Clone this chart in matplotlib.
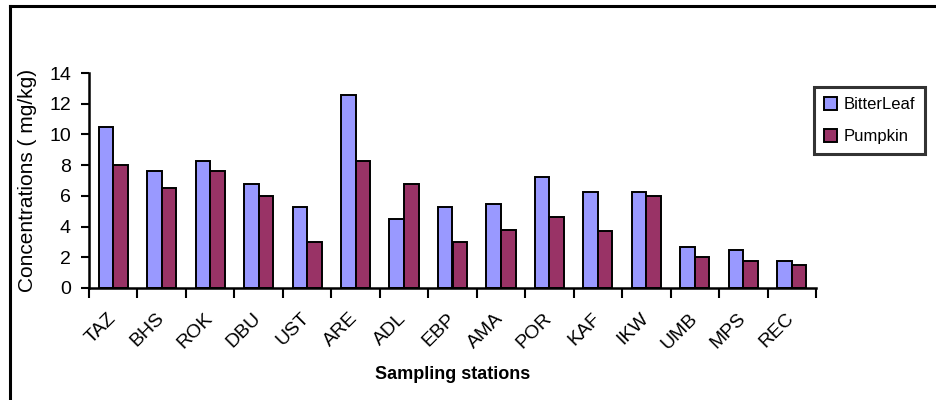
import numpy as np
import matplotlib.pyplot as plt
from matplotlib.lines import Line2D

plt.rcParams['font.family'] = ['Liberation Sans', 'DejaVu Sans']

stations = ["TAZ", "BHS", "ROK", "DBU", "UST", "ARE", "ADL", "EBP",
            "AMA", "POR", "KAF", "IKW", "UMB", "MPS", "REC"]
bitterleaf = [10.5, 7.6, 8.3, 6.75, 5.3, 12.6, 4.5, 5.3,
              5.45, 7.2, 6.25, 6.25, 2.7, 2.45, 1.75]
pumpkin = [8.0, 6.5, 7.6, 6.0, 3.0, 8.3, 6.75, 3.0,
           3.8, 4.6, 3.7, 6.0, 2.0, 1.75, 1.5]

fig = plt.figure(figsize=(9.37, 4.0), dpi=100)
ax = fig.add_axes([89 / 937, 1 - 288 / 400, (816 - 89) / 937, (288 - 73) / 400])

x = np.arange(len(stations))
w = 0.3
ax.bar(x - w / 2, bitterleaf, w, color="#9999FF", edgecolor="black",
       linewidth=1.4, label="BitterLeaf")
ax.bar(x + w / 2, pumpkin, w, color="#993366", edgecolor="black",
       linewidth=1.4, label="Pumpkin")

ax.set_xlim(-0.5, len(stations) - 0.5)
ax.set_ylim(0, 14)
ax.set_yticks(range(0, 15, 2))
ax.tick_params(axis="y", direction="out", length=6, width=1.5, labelsize=14, pad=7)

# category labels at the centres, tick marks on the boundaries
ax.set_xticks(x)
ax.set_xticklabels(stations, rotation=45, ha="right", va="center",
                   rotation_mode="anchor", fontsize=14)
ax.tick_params(axis="x", which="major", length=0, pad=20)
ax.set_xticks(np.arange(-0.5, len(stations), 1), minor=True)
ax.tick_params(axis="x", which="minor", direction="out", length=7, width=1.5)

for s in ["top", "right"]:
    ax.spines[s].set_visible(False)
for s in ["left", "bottom"]:
    ax.spines[s].set_linewidth(1.8)

ax.set_ylabel("Concentrations ( mg/kg)", fontsize=15, labelpad=9)
ax.set_xlabel("Sampling stations", fontsize=13, fontweight="bold", labelpad=10)

leg = ax.legend(loc="upper left", bbox_to_anchor=(814 / 937, 1 - 87 / 400),
                bbox_transform=fig.transFigure, borderaxespad=0, fontsize=12,
                frameon=True, fancybox=False, edgecolor="black",
                handlelength=0.8, handleheight=0.8, handletextpad=0.4,
                labelspacing=1.0, borderpad=0.6)
leg.get_frame().set_linewidth(2.2)

# outer frame of the chart area
fig.add_artist(Line2D([10 / 937, 10 / 937], [0, 1 - 6 / 400], color="black",
                      linewidth=2.2, transform=fig.transFigure))
fig.add_artist(Line2D([10 / 937, 1], [1 - 6 / 400, 1 - 6 / 400], color="black",
                      linewidth=2.2, transform=fig.transFigure))

fig.savefig("out.png", dpi=100)
